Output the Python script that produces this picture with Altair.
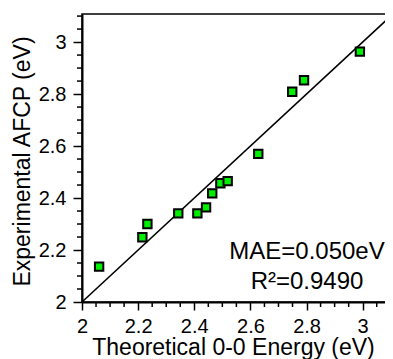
import altair as alt
import pandas as pd

# Data
theory = [2.061, 2.233, 2.215, 2.343, 2.411, 2.442, 2.464, 2.493, 2.519, 2.628, 2.749, 2.791, 2.990]
expt = [2.136, 2.300, 2.249, 2.341, 2.341, 2.364, 2.418, 2.457, 2.465, 2.570, 2.809, 2.853, 2.963]

major_ticks = [2.0, 2.2, 2.4, 2.6, 2.8, 3.0]
minor_ticks = [2.05, 2.1, 2.15, 2.25, 2.3, 2.35, 2.45, 2.5, 2.55, 2.65, 2.7, 2.75,
               2.85, 2.9, 2.95, 3.05, 3.1]
axis_range = [2.0, 3.108]

mae_text = "MAE=0.050eV"
r2_text = "R²=0.9490"

FONT = "Liberation Sans"
W, H = 311, 288

df = pd.DataFrame({"x": theory, "y": expt})
diag = pd.DataFrame({"x": axis_range, "y": axis_range})
ann = pd.DataFrame({"t": [mae_text, r2_text], "row": [0, 1]})
mt = pd.DataFrame({"v": minor_ticks})

sx = alt.Scale(domain=axis_range, nice=False, zero=False)
sy = alt.Scale(domain=axis_range, nice=False, zero=False)

major_x = alt.Axis(values=major_ticks, tickSize=8, tickWidth=1.5, tickColor="black",
                   domainColor="black", domainWidth=2, labelFont=FONT, labelFontSize=20,
                   labelColor="black", labelPadding=6, labelFlush=False, grid=False,
                   title="Theoretical 0-0 Energy (eV)", titleFont=FONT, titleFontSize=23,
                   titleFontWeight="normal", titleColor="black", titleBaseline="alphabetic",
                   titleY=52, titleX=151, orient="bottom", format="~g")
major_y = alt.Axis(values=major_ticks, tickSize=9, tickWidth=1.5, tickColor="black",
                   domainColor="black", domainWidth=2, labelFont=FONT, labelFontSize=20,
                   labelColor="black", labelPadding=7, labelFlush=False, grid=False,
                   title="Experimental AFCP (eV)", titleFont=FONT, titleFontSize=23,
                   titleFontWeight="normal", titleColor="black", titleBaseline="alphabetic",
                   titleX=-53, titleY=147, orient="left", format="~g")

line = alt.Chart(diag).mark_line(color="black", strokeWidth=1.6).encode(
    x=alt.X("x:Q", scale=sx, axis=major_x),
    y=alt.Y("y:Q", scale=sy, axis=major_y),
)

minor_xr = alt.Chart(mt).mark_rule(color="black", strokeWidth=1.5).encode(
    x=alt.X("v:Q", scale=sx),
    y=alt.value(H), y2=alt.value(H + 5),
)
minor_yr = alt.Chart(mt).mark_rule(color="black", strokeWidth=1.5).encode(
    y=alt.Y("v:Q", scale=sy),
    x=alt.value(0), x2=alt.value(-5),
)

points = alt.Chart(df).mark_square(size=70, fill="#00ee00", fillOpacity=1, opacity=1,
                                    stroke="black", strokeWidth=2).encode(
    x=alt.X("x:Q", scale=sx),
    y=alt.Y("y:Q", scale=sy),
)

text1 = alt.Chart(ann).transform_filter("datum.row == 0").mark_text(
    font=FONT, fontSize=24, color="black", align="center", baseline="alphabetic"
).encode(x=alt.value(225), y=alt.value(245), text="t:N")
text2 = alt.Chart(ann).transform_filter("datum.row == 1").mark_text(
    font=FONT, fontSize=24, color="black", align="center", baseline="alphabetic"
).encode(x=alt.value(225), y=alt.value(275), text="t:N")

chart = alt.layer(line, minor_xr, minor_yr, points, text1, text2).properties(
    width=W, height=H,
    autosize=alt.AutoSizeParams(type="none"),
    padding={"left": 74, "top": 6, "right": -8, "bottom": 57},
    background="white",
).configure_view(stroke="black", strokeWidth=1.5)

chart.save("out.html", embed_options={"renderer": "svg", "actions": False})
